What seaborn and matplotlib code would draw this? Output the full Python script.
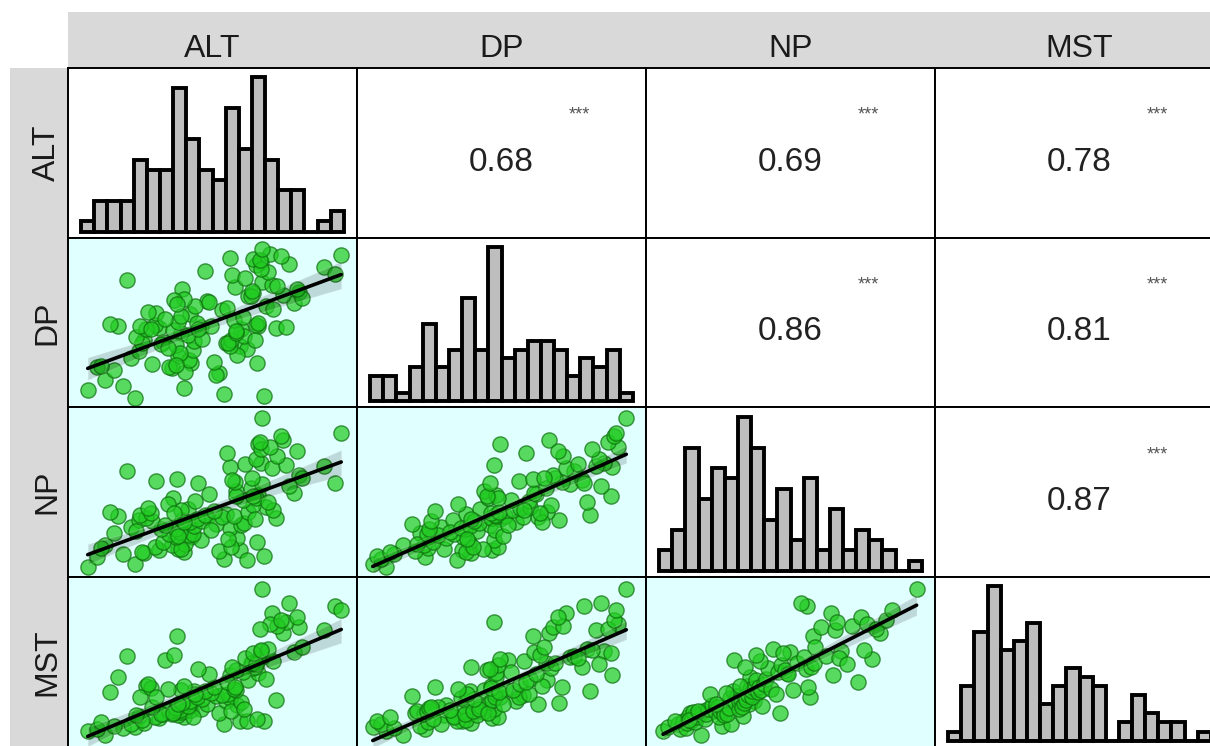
# pairs_plot.py
# Scatterplot matrix: histograms on the diagonal, correlations above, fits below

import numpy as np
import pandas as pd
import seaborn as sns
import matplotlib.pyplot as plt

# ===============================
# Data (116 samples, values estimated from the chart)
# ===============================
variables = ["ALT", "DP", "NP", "MST"]

alt = [
    0.5, 4.1, 1.8, 10.9, 1.2, 13.9, 3.2, 4.8, 7.8, 2.5, 10.5, 12.1, 5.9, 8.4, 7.4,
    1.5, 5.6, 3.8, 6.9, 12.6, 7.9, 13.4, 6.2, 9.1, 4.4, 11.9, 7.6, 7.2, 11.0, 8.2,
    8.5, 6.7, 4.6, 7.5, 4.2, 9.6, 6.1, 7.2, 11.3, 11.4, 8.6, 8.1, 12.2, 10.3,
    12.4, 8.3, 7.0, 9.2, 5.4, 11.2, 7.7, 8.8, 11.8, 14.8, 4.9, 10.7, 9.9, 2.8, 11.6,
    4.5, 9.4, 7.4, 5.3, 5.7, 12.7, 2.2, 10.1, 13.5, 7.6, 6.4, 5.1, 14.1, 13.1,
    6.6, 11.3, 8.7, 12.3, 7.8, 13.3, 11.1, 11.8, 14.6, 9.7, 16.2, 13.2, 12.9, 15.4, 13.8,
    8.9, 13.5, 11.7, 7.1, 11.5, 7.3, 13.0, 13.7, 16.6, 3.5, 14.5, 14.2, 18.5, 15.6,
    12.5, 16.8, 13.3, 14.9, 13.1, 16.4, 13.7, 14.4, 19.3, 13.6, 15.8, 15.2, 19.8, 13.8,
]

dp = [
    1.2, 0.2, 2.5, 0.8, 4.2, 0.5, 1.8, 7.7, 1.5, 3.8, 3.4, 7.0, 9.3, 4.7, 5.6,
    4.4, 9.7, 5.4, 4.1, 6.6, 3.6, 4.8, 7.5, 9.4, 6.3, 5.8, 8.6, 7.1, 7.3, 5.2,
    6.4, 4.3, 7.3, 6.1, 8.1, 12.8, 7.2, 4.5, 6.9, 7.8, 7.6, 8.4, 9.1, 3.2,
    8.3, 11.1, 9.0, 7.9, 4.6, 7.4, 14.4, 9.9, 8.7, 9.3, 9.2, 11.6, 9.5, 9.6, 10.3,
    9.5, 16.7, 10.1, 9.2, 11.3, 13.5, 9.8, 4.9, 9.6, 10.9, 10.5, 11.4, 12.2, 13.8,
    6.7, 18.4, 12.1, 10.7, 13.1, 9.7, 11.9, 8.9, 11.7, 12.6, 12.5, 7.7, 13.4, 13.6, 15.2,
    9.1, 9.9, 14.6, 12.9, 16.1, 12.4, 14.1, 17.8, 13.9, 15.5, 14.9, 16.5, 17.2, 9.4,
    15.8, 13.2, 17.4, 14.7, 18.3, 14.3, 16.9, 18.9, 16.3, 18.1, 17.6, 18.6, 18.7, 19.5,
]

np_vals = [
    0.3, 0.7, 3.2, 1.4, 1.6, 1.8, 2.05, 2.1, 2.2, 4.75, 2.35, 2.45, 2.5, 4.15, 2.7,
    2.75, 2.85, 5.5, 3.1, 1.2, 3.35, 3.5, 3.6, 3.75, 6.35, 4.05, 2.6, 4.25, 7.2, 4.45,
    4.55, 4.65, 2.3, 4.85, 4.95, 6.85, 5.2, 5.3, 5.4, 2.95, 5.6, 7.85, 5.8, 5.9,
    6.05, 6.1, 9.2, 6.25, 6.3, 3.9, 6.45, 6.5, 10.2, 6.65, 6.7, 6.75, 5.1, 6.9, 6.95,
    7.05, 7.1, 4.35, 7.25, 11.45, 7.4, 7.5, 7.6, 9.7, 7.75, 5.7, 7.95, 8.1, 8.3,
    8.5, 13.25, 8.9, 9.05, 6.15, 9.3, 15.15, 9.55, 7.65, 9.8, 9.95, 6.55, 10.5, 16.8, 11.05,
    11.15, 16.2, 11.35, 7.35, 11.55, 11.7, 11.8, 13.85, 12.3, 12.7, 13.1, 8.7, 13.4, 13.55,
    13.7, 11.9, 14.3, 14.7, 9.45, 15.4, 15.6, 15.85, 11.25, 16.5, 10.8, 17.3, 17.7, 19.6,
]

mst = [
    1.1, 1.6, 0.5, 1.9, 1.3, 2.4, 1.4, 2.1, 2.9, 1.7, 3.4, 2.3, 2.7, 3.8, 3.1,
    2.2, 2.8, 2.0, 3.2, 2.4, 3.6, 2.6, 3.3, 3.9, 3.0, 4.4, 3.5, 3.7, 5.0, 4.1,
    2.9, 3.6, 2.5, 3.8, 3.1, 4.6, 3.2, 4.0, 5.3, 3.7, 6.2, 4.3, 4.8, 5.6,
    3.9, 4.9, 3.4, 5.2, 4.2, 5.9, 4.7, 5.5, 6.3, 5.1, 6.9, 5.7, 6.0, 8.1, 6.5,
    5.4, 6.2, 4.5, 6.6, 5.5, 7.6, 6.1, 6.8, 8.6, 6.4, 10.2, 7.2, 7.8, 9.2,
    6.5, 8.3, 5.8, 8.7, 6.9, 9.6, 7.4, 8.9, 10.1, 8.4, 11.3, 9.3, 9.8, 13.7, 10.6,
    9.1, 10.4, 6.7, 10.9, 9.4, 13.3, 9.9, 11.4, 14.5, 10.8, 16.3, 11.7, 14.1, 15.2,
    10.5, 11.9, 9.7, 14.7, 11.1, 15.8, 11.6, 14.9, 17.3, 14.3, 17.7, 15.5, 16.7, 19.5,
]

# correlations printed in the upper panels (row variable, column variable)
corr_pairs = [("ALT", "DP"), ("ALT", "NP"), ("ALT", "MST"),
              ("DP", "NP"), ("DP", "MST"), ("NP", "MST")]
corr_values = [0.68, 0.69, 0.78, 0.86, 0.81, 0.87]
corr_stars = ["***", "***", "***", "***", "***", "***"]

df = pd.DataFrame({"ALT": alt, "DP": dp, "NP": np_vals, "MST": mst})
bin_edges = np.arange(0, 21, 1)

# ===============================
# Style
# ===============================
sns.set_style("white")
plt.rcParams["font.family"] = ["Liberation Sans", "DejaVu Sans"]

W, H = 1210, 746
fig = plt.figure(figsize=(W / 100, H / 100), dpi=100)

# grid geometry in pixels (last column / row run past the edge of the image)
grid_x0, grid_y0 = 68, 68
cell_w, cell_h = 289, 169.7
strip_y0 = 12
strip_x0 = 10


def px_axes(x, y, w, h):
    return fig.add_axes([x / W, 1 - (y + h) / H, w / W, h / H])


strip_color = "#D9D9D9"
label_color = "#1A1A1A"

# top strips
for j, var in enumerate(variables):
    sax = px_axes(grid_x0 + j * cell_w, strip_y0, cell_w, grid_y0 - strip_y0)
    sax.set_facecolor(strip_color)
    sax.set_xticks([])
    sax.set_yticks([])
    for s in sax.spines.values():
        s.set_visible(False)
    sax.text(0.5, 0.2, var, ha="center", va="baseline", fontsize=23,
             color=label_color, transform=sax.transAxes)

# left strips
for i, var in enumerate(variables):
    sax = px_axes(strip_x0, grid_y0 + i * cell_h, grid_x0 - strip_x0, cell_h)
    sax.set_facecolor(strip_color)
    sax.set_xticks([])
    sax.set_yticks([])
    for s in sax.spines.values():
        s.set_visible(False)
    sax.text(0.78, 0.5, var, ha="center", va="baseline", rotation=90,
             rotation_mode="anchor", fontsize=23, color=label_color,
             transform=sax.transAxes)

# ===============================
# Panels
# ===============================
lim = (-1, 21)

for i, yvar in enumerate(variables):
    for j, xvar in enumerate(variables):
        ax = px_axes(grid_x0 + j * cell_w, grid_y0 + i * cell_h, cell_w, cell_h)

        if i == j:
            # histogram on the diagonal
            sns.histplot(x=df[xvar], bins=bin_edges, ax=ax, color="#BEBEBE",
                         edgecolor="black", linewidth=2.8, alpha=1)
            counts, _ = np.histogram(df[xvar], bins=bin_edges)
            ax.set_ylim(-0.04 * counts.max(), 1.06 * counts.max())
            ax.set_facecolor("white")
        elif i > j:
            # scatter with linear fit below the diagonal
            ax.set_facecolor("#E0FFFF")
            sns.scatterplot(x=df[xvar], y=df[yvar], ax=ax, s=120,
                            color="#22CC22", edgecolor="#0F6E0F",
                            linewidth=1, alpha=0.72, legend=False)
            sns.regplot(x=df[xvar], y=df[yvar], ax=ax, scatter=False,
                        color="black", ci=95, seed=1,
                        line_kws={"linewidth": 2.6})
            ax.set_ylim(*lim)
        else:
            # correlation text above the diagonal
            ax.set_facecolor("white")
            k = corr_pairs.index((yvar, xvar))
            ax.text(0.5, 0.395, f"{corr_values[k]:.2f}", ha="center",
                    va="baseline", fontsize=24, color="#222222",
                    transform=ax.transAxes)
            ax.text(0.77, 0.695, corr_stars[k], ha="center", va="baseline",
                    fontsize=13, color="#555555", transform=ax.transAxes)
            ax.set_ylim(0, 1)

        ax.set_xlim(*lim)
        ax.set_xticks([])
        ax.set_yticks([])
        ax.set_xlabel("")
        ax.set_ylabel("")
        for s in ax.spines.values():
            s.set_visible(True)
            s.set_color("black")
            s.set_linewidth(1.4)

fig.savefig("out.png", dpi=100)
